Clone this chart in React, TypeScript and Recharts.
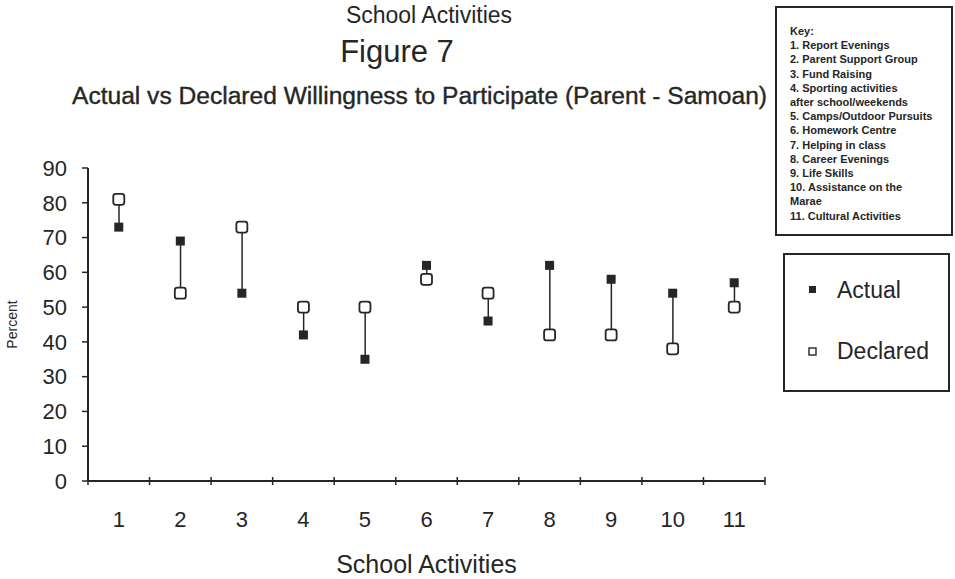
import React from "react";
import { ComposedChart, Bar, Line, XAxis, YAxis, Legend } from "recharts";

// values
const activities = ["1", "2", "3", "4", "5", "6", "7", "8", "9", "10", "11"];
const actual = [73, 69, 54, 42, 35, 62, 46, 62, 58, 54, 57];
const declared = [81, 54, 73, 50, 50, 58, 54, 42, 42, 38, 50];
const yTicks = [0, 10, 20, 30, 40, 50, 60, 70, 80, 90];

const keyLines = [
  "Key:",
  "1. Report Evenings",
  "2. Parent Support Group",
  "3. Fund Raising",
  "4. Sporting activities",
  "after school/weekends",
  "5. Camps/Outdoor Pursuits",
  "6. Homework Centre",
  "7. Helping in class",
  "8. Career Evenings",
  "9. Life Skills",
  "10. Assistance on the",
  "Marae",
  "11. Cultural Activities",
];

const data = activities.map((activity, i) => ({
  activity,
  actual: actual[i],
  declared: declared[i],
  gap: [Math.min(actual[i], declared[i]), Math.max(actual[i], declared[i])],
}));

const INK = "#262626";
const FONT = "'Liberation Sans', Arial, Helvetica, sans-serif";

function ActualDot(props: any) {
  const { cx, cy } = props;
  if (cx == null || cy == null) return null;
  return <rect x={cx - 4.5} y={cy - 4.5} width={9} height={9} fill={INK} />;
}

function DeclaredDot(props: any) {
  const { cx, cy } = props;
  if (cx == null || cy == null) return null;
  return (
    <rect x={cx - 5.5} y={cy - 5.5} width={11} height={11} rx={2.5} fill="#fff" stroke={INK} strokeWidth={1.8} />
  );
}

function GapLine(props: any) {
  const { x, y, width, height } = props;
  const top = Math.min(y, y + height);
  const cx = x + width / 2;
  return <line x1={cx} x2={cx} y1={top} y2={top + Math.abs(height)} stroke={INK} strokeWidth={1.5} />;
}

function ActivityTick(props: any) {
  const { x, y, payload, index } = props;
  const half = payload && payload.offset ? payload.offset : 0;
  const last = index === activities.length - 1;
  return (
    <g>
      <line x1={x - half} x2={x - half} y1={y - 4} y2={y + 4} stroke={INK} strokeWidth={1.5} />
      {last && <line x1={x + half} x2={x + half} y1={y - 4} y2={y + 4} stroke={INK} strokeWidth={1.5} />}
      <text x={x} y={y + 46} textAnchor="middle" fontSize={22} fill={INK} fontFamily={FONT}>
        {payload.value}
      </text>
    </g>
  );
}

function SeriesLegend(props: any) {
  const items = (props.payload || [])
    .filter((item: any) => item.dataKey === "actual" || item.dataKey === "declared")
    .sort((a: any, b: any) => (a.dataKey === "actual" ? -1 : 1));
  return (
    <div
      style={{
        width: 163,
        height: 135,
        border: `2px solid ${INK}`,
        background: "#fff",
        fontFamily: FONT,
        position: "relative",
      }}
    >
      {items.map((item: any, i: number) => (
        <div
          key={item.value}
          style={{ position: "absolute", left: 0, top: 20 + i * 61, height: 30, display: "flex", alignItems: "center" }}
        >
          <svg width={50} height={30}>
            {item.dataKey === "actual" ? (
              <rect x={24} y={11} width={7} height={7} fill={INK} />
            ) : (
              <rect x={24} y={12} width={7} height={7} fill="#fff" stroke={INK} strokeWidth={1.4} />
            )}
          </svg>
          <span style={{ fontSize: 23, color: INK, marginLeft: 2 }}>{item.value}</span>
        </div>
      ))}
    </div>
  );
}

export default function App() {
  return (
    <div style={{ position: "absolute", left: 0, top: 0, width: 955, height: 579, background: "#fff" }}>
      <ComposedChart
        width={955}
        height={579}
        data={data}
        margin={{ top: 168, right: 190, bottom: 0, left: 0 }}
      >
        <XAxis
          dataKey="activity"
          height={98}
          axisLine={{ stroke: INK, strokeWidth: 2 }}
          tickLine={false}
          tickSize={0}
          tickMargin={0}
          tick={<ActivityTick />}
          interval={0}
          label={{
            value: "School Activities",
            position: "insideBottom",
            offset: 6,
            style: { fontSize: 25, fill: INK, fontFamily: FONT },
          }}
        />
        <YAxis
          width={88}
          domain={[0, 90]}
          ticks={yTicks}
          interval={0}
          axisLine={{ stroke: INK, strokeWidth: 2 }}
          tickLine={{ stroke: INK, strokeWidth: 1.5 }}
          tickSize={6}
          tickMargin={15}
          tick={{ fontSize: 22, fill: INK, fontFamily: FONT }}
          label={{
            value: "Percent",
            angle: -90,
            position: "insideLeft",
            offset: 12,
            style: { fontSize: 14, fill: INK, fontFamily: FONT, textAnchor: "middle" },
          }}
        />
        <Bar dataKey="gap" barSize={10} shape={<GapLine />} isAnimationActive={false} legendType="none" />
        <Line
          dataKey="declared"
          name="Declared"
          stroke="none"
          dot={<DeclaredDot />}
          activeDot={false}
          isAnimationActive={false}
        />
        <Line
          dataKey="actual"
          name="Actual"
          stroke="none"
          dot={<ActualDot />}
          activeDot={false}
          isAnimationActive={false}
        />
        <Legend
          layout="horizontal"
          align="center"
          verticalAlign="middle"
          wrapperStyle={{ left: 783, top: 253, width: 167, height: 139 }}
          content={<SeriesLegend />}
        />
      </ComposedChart>

      <svg
        width={955}
        height={579}
        style={{ position: "absolute", left: 0, top: 0, pointerEvents: "none" }}
        fontFamily={FONT}
      >
        <text x={429} y={23} textAnchor="middle" fontSize={23} fill={INK}>
          School Activities
        </text>
        <text x={397} y={62} textAnchor="middle" fontSize={31} fill={INK}>
          Figure 7
        </text>
        <text x={72} y={104} fontSize={23} fill={INK} textLength={695} lengthAdjust="spacingAndGlyphs" stroke={INK} strokeWidth={0.35}>
          Actual vs Declared Willingness to Participate (Parent - Samoan)
        </text>
        <rect x={776} y={7} width={176} height={228} fill="#fff" stroke={INK} strokeWidth={2} />
        {keyLines.map((line, i) => (
          <text key={line} x={790} y={35 + i * 14.2} fontSize={11} fontWeight="bold" fill={INK}>
            {line}
          </text>
        ))}
      </svg>
    </div>
  );
}
